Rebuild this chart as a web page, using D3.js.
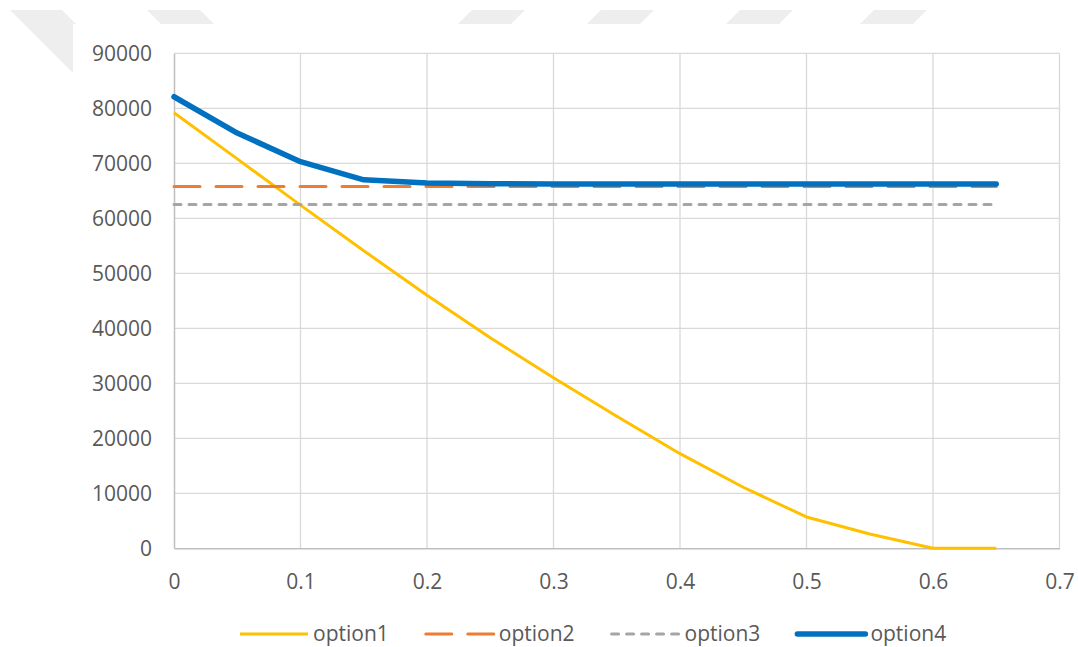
<!DOCTYPE html>
<html>
<head>
<meta charset="utf-8">
<script src="https://cdn.jsdelivr.net/npm/d3@7"></script>
<style>
  body { margin: 0; background: #fff; }
  #chart text { font-family: "Open Sans", "Noto Sans", sans-serif; fill: #595959; }
</style>
</head>
<body>
<div id="chart"></div>
<script>
// data
const xValues = [0, 0.05, 0.1, 0.15, 0.2, 0.25, 0.3, 0.35, 0.4, 0.45, 0.5, 0.55, 0.6, 0.65];
const option1 = [79200, 70800, 62400, 54100, 46000, 38300, 31000, 24000, 17200, 11100, 5700, 2600, 0, 0];
const option2 = [65800, 65800, 65800, 65800, 65800, 65800, 65800, 65800, 65800, 65800, 65800, 65800, 65800, 65800];
const option3 = [62500, 62500, 62500, 62500, 62500, 62500, 62500, 62500, 62500, 62500, 62500, 62500, 62500, 62500];
const option4 = [82100, 75500, 70300, 67000, 66400, 66300, 66250, 66250, 66250, 66250, 66250, 66250, 66250, 66250];
const seriesNames = ["option1", "option2", "option3", "option4"];
const xTicks = [0, 0.1, 0.2, 0.3, 0.4, 0.5, 0.6, 0.7];
const xTickLabels = ["0", "0.1", "0.2", "0.3", "0.4", "0.5", "0.6", "0.7"];
const yTicks = [0, 10000, 20000, 30000, 40000, 50000, 60000, 70000, 80000, 90000];

const W = 1078, H = 647;
const svg = d3.select("#chart").append("svg").attr("width", W).attr("height", H);

// faint background marks (page watermark behind the chart)
const wm = svg.append("g").attr("fill", "#eeeeee");
wm.append("polygon").attr("points", "10,10 62,10 127,75 75,75");
wm.append("polygon").attr("points", "147,10 200,10 230,40 177,40");
[472, 601, 740, 874].forEach(x0 => {
  wm.append("polygon").attr("points", `${x0},10 ${x0 + 53},10 ${x0 + 23},40 ${x0 - 30},40`);
});
svg.append("rect").attr("x", 73).attr("y", 24).attr("width", W - 73).attr("height", H - 24).attr("fill", "#fff");

// scales
const x = d3.scaleLinear().domain([0, 0.7]).range([174, 1059.5]);
const y = d3.scaleLinear().domain([0, 90000]).range([548.3, 53.3]);

// gridlines
svg.append("g").selectAll("line").data(yTicks.slice(1)).enter().append("line")
  .attr("x1", x(0)).attr("x2", x(0.7))
  .attr("y1", d => y(d)).attr("y2", d => y(d))
  .attr("stroke", "#d9d9d9").attr("stroke-width", 1.3);
svg.append("g").selectAll("line").data(xTicks.slice(1)).enter().append("line")
  .attr("x1", d => x(d)).attr("x2", d => x(d))
  .attr("y1", y(0)).attr("y2", y(90000))
  .attr("stroke", "#d9d9d9").attr("stroke-width", 1.3);

// axes
const yAxis = svg.append("g")
  .attr("transform", `translate(${x(0)},0)`)
  .call(d3.axisLeft(y).tickValues(yTicks).tickSize(0).tickPadding(22).tickFormat(d3.format("d")));
const xAxis = svg.append("g")
  .attr("transform", `translate(0,${y(0)})`)
  .call(d3.axisBottom(x).tickValues(xTicks).tickSize(0).tickPadding(26)
    .tickFormat((d, i) => xTickLabels[i]));
[yAxis, xAxis].forEach(a => {
  a.select(".domain").attr("stroke", "#bfbfbf").attr("stroke-width", 1.5);
  a.selectAll("text").style("font-size", "21px").attr("fill", "#595959");
});

// series
const series = [
  { name: seriesNames[0], values: option1, color: "#FFC000", width: 3, dash: null, cap: "butt" },
  { name: seriesNames[1], values: option2, color: "#ED7D31", width: 3, dash: "26,16", cap: "round" },
  { name: seriesNames[2], values: option3, color: "#A5A5A5", width: 3, dash: "7,8", cap: "round" },
  { name: seriesNames[3], values: option4, color: "#0070C0", width: 5.5, dash: null, cap: "round" }
];

const line = d3.line()
  .x((d, i) => x(xValues[i]))
  .y(d => y(d));

series.forEach(s => {
  svg.append("path")
    .datum(s.values)
    .attr("fill", "none")
    .attr("stroke", s.color)
    .attr("stroke-width", s.width)
    .attr("stroke-dasharray", s.dash)
    .attr("stroke-linecap", s.cap)
    .attr("stroke-linejoin", "round")
    .attr("d", line);
});

// legend
const legend = svg.append("g").attr("transform", "translate(238,634)");
let lx = 0;
series.forEach(s => {
  legend.append("line")
    .attr("x1", lx + 2).attr("x2", lx + 70)
    .attr("y1", 0).attr("y2", 0)
    .attr("stroke", s.color)
    .attr("stroke-width", s.width)
    .attr("stroke-dasharray", s.dash)
    .attr("stroke-linecap", s.cap);
  const t = legend.append("text")
    .attr("x", lx + 75).attr("y", 0).attr("dy", "0.35em")
    .style("font-size", "21px")
    .text(s.name);
  lx += 75 + t.node().getComputedTextLength() + 35;
});
</script>
</body>
</html>
